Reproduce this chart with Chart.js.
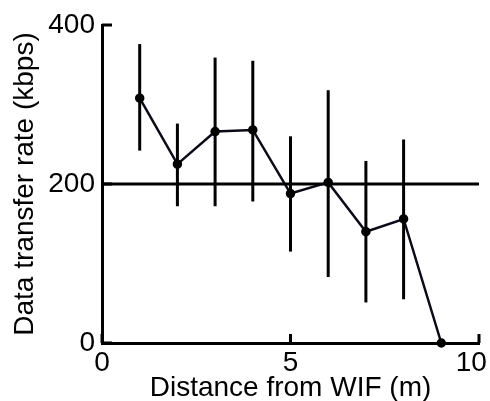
<!DOCTYPE html>
<html><head><meta charset="utf-8">
<script src="https://cdn.jsdelivr.net/npm/chart.js@4"></script>
<style>html,body{margin:0;padding:0;background:#fff}#wrap{width:490px;height:401px}</style>
</head><body>
<div id="wrap"><canvas id="c"></canvas></div>
<script>
const distances = [1, 2, 3, 4, 5, 6, 7, 8, 9];
const rates     = [308, 225, 266, 268, 188, 202, 140, 156, 0];
const errHigh   = [376, 276, 359, 355, 260, 318, 229, 256, 0];
const errLow    = [242, 172, 172, 178, 115, 83, 51, 55, 0];
const refLevel  = 200;
const xTicks = [0, 5, 10];
const yTicks = [0, 200, 400];

const FONT = "'Liberation Sans', Arial, sans-serif";

const errorBars = {
  id: 'errorBars',
  beforeDatasetsDraw(chart) {
    const {ctx, scales: {x, y}} = chart;
    ctx.save();
    ctx.strokeStyle = '#000';
    ctx.lineWidth = 3;
    distances.forEach((d, i) => {
      if (errHigh[i] === errLow[i]) return;
      const px = x.getPixelForValue(d);
      ctx.beginPath();
      ctx.moveTo(px, y.getPixelForValue(errLow[i]));
      ctx.lineTo(px, y.getPixelForValue(errHigh[i]));
      ctx.stroke();
    });
    ctx.restore();
  },
  afterDatasetsDraw(chart) {
    const {ctx, scales: {x, y}} = chart;
    ctx.save();
    ctx.strokeStyle = '#000';
    ctx.lineWidth = 3;
    xTicks.forEach(v => {
      const px = x.getPixelForValue(v);
      ctx.beginPath();
      ctx.moveTo(px, y.bottom);
      ctx.lineTo(px, y.bottom - 9);
      ctx.stroke();
    });
    yTicks.forEach(v => {
      const py = y.getPixelForValue(v);
      ctx.beginPath();
      ctx.moveTo(x.left, py);
      ctx.lineTo(x.left + 10, py);
      ctx.stroke();
    });
    ctx.restore();
  }
};

new Chart(document.getElementById('c'), {
  type: 'scatter',
  data: {
    datasets: [
      {
        data: [{x: xTicks[0], y: refLevel}, {x: xTicks[xTicks.length - 1], y: refLevel}],
        showLine: true, borderColor: '#000', borderWidth: 3, pointRadius: 0, clip: false
      },
      {
        data: distances.map((d, i) => ({x: d, y: rates[i]})),
        showLine: true, borderColor: '#0a0a1a', borderWidth: 2.5,
        pointRadius: 3.5, pointBackgroundColor: '#000', pointBorderColor: '#000',
        clip: false
      }
    ]
  },
  options: {
    responsive: true,
    maintainAspectRatio: false,
    animation: false,
    events: [],
    layout: {padding: {left: 0, right: 11, top: 25, bottom: 0}},
    plugins: {legend: {display: false}, tooltip: {enabled: false}},
    scales: {
      x: {
        type: 'linear', min: 0, max: 10,
        afterBuildTicks: s => { s.ticks = xTicks.map(v => ({value: v})); },
        afterFit: s => { s.height = 58; s.paddingLeft = 0; s.paddingRight = 0; },
        grid: {display: false, drawTicks: false},
        border: {display: true, color: '#000', width: 3},
        ticks: {color: '#000', padding: 3, maxRotation: 0, font: {family: FONT, size: 28},
                callback: v => (v === xTicks[xTicks.length - 1] ? v + '  ' : '' + v)},
        title: {display: true, text: 'Distance from WIF (m)', color: '#000',
                font: {family: FONT, size: 28}, padding: {top: 0, bottom: -4}}
      },
      y: {
        type: 'linear', min: 0, max: 400,
        afterBuildTicks: s => { s.ticks = yTicks.map(v => ({value: v})); },
        afterFit: s => { s.width = 102; s.paddingTop = 0; s.paddingBottom = 0; },
        grid: {display: false, drawTicks: false},
        border: {display: true, color: '#000', width: 3},
        ticks: {color: '#000', padding: 7, font: {family: FONT, size: 28}},
        title: {display: true, text: 'Data transfer rate (kbps)', color: '#000',
                font: {family: FONT, size: 28}, padding: {top: 8, bottom: 0}}
      }
    }
  },
  plugins: [errorBars]
});
</script>
</body></html>
